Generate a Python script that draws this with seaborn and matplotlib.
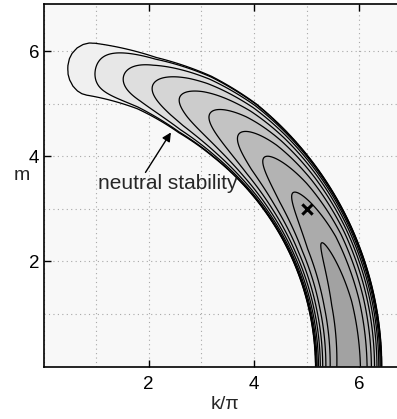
import numpy as np
import matplotlib
matplotlib.use("Agg")
import matplotlib.pyplot as plt
import seaborn as sns
from matplotlib.ticker import MultipleLocator, FixedLocator

# ---- data ----
# ridge value of the growth rate (in contour-level units) vs polar angle of (k/pi, m)
ridge_angle = [0, 12, 24, 34.9, 43.5, 50, 56.7, 63.2, 68.8, 74.6, 80.1, 85.4, 90]
ridge_level = [9.63, 9.45, 9.0, 8.0, 7.0, 6.0, 5.0, 4.0, 3.0, 2.0, 1.0, 0.05, 0.05]
# unstable band (inside neutral stability curve): centre radius and half-width vs angle
band_angle = [0, 20, 51, 60, 70, 81, 82, 83, 84, 84.8, 85.2, 85.4, 90]
band_radius = [5.80, 5.79, 5.78, 5.76, 5.74, 5.73, 5.73, 5.73, 5.73, 5.73, 5.73, 5.73, 5.73]
band_halfwidth = [0.63, 0.635, 0.65, 0.62, 0.52, 0.50, 0.487, 0.445, 0.366, 0.252, 0.148, 0.001, 0.001]
tip_angle = 85.4
contour_levels = [0, 1, 2, 3, 4, 5, 6, 7, 8, 9, 10]
fill_grays = [0.94, 0.905, 0.87, 0.835, 0.80, 0.765, 0.73, 0.70, 0.67, 0.635]
max_k = [5.0]
max_m = [3.0]
x_ticks = [2, 4, 6]
y_ticks = [2, 4, 6]
x_lim = (0, 6.9)
y_lim = (0, 6.9)

sns.set_style("ticks")
plt.rcParams['font.family'] = ['Liberation Sans', 'DejaVu Sans']

fig = plt.figure(figsize=(3.97, 4.19), dpi=100)
ax = fig.add_axes([43.5 / 397, (419 - 366.5) / 419, (406.5 - 43.5) / 397, (366.5 - 4) / 419])
ax.set_facecolor('#f8f8f8')

kk = np.linspace(x_lim[0], x_lim[1], 1400)
mm = np.linspace(y_lim[0], y_lim[1], 1400)
K, M = np.meshgrid(kk, mm)
R = np.hypot(K, M)
TH = np.degrees(np.arctan2(M, K))
G = np.interp(TH, ridge_angle, ridge_level)
Rc = np.interp(TH, band_angle, band_radius)
W = np.interp(TH, band_angle, band_halfwidth)
U = (R - Rc) / W
Q = 1 - U ** 2
S = G * np.sign(Q) * np.sqrt(np.abs(Q))
S = np.where(TH >= tip_angle, -1.0, S)

colors = [str(g) for g in fill_grays]
ax.contourf(K, M, S, levels=contour_levels, colors=colors, zorder=1)
ax.contour(K, M, S, levels=contour_levels[:-1], colors='k', linewidths=0.9, zorder=2)

sns.scatterplot(x=max_k, y=max_m, marker='x', s=55, color='k', linewidth=2.2, ax=ax, zorder=5)

ax.set_xlim(*x_lim)
ax.set_ylim(*y_lim)
ax.xaxis.set_major_locator(FixedLocator(x_ticks))
ax.yaxis.set_major_locator(FixedLocator(y_ticks))
ax.xaxis.set_minor_locator(MultipleLocator(1))
ax.yaxis.set_minor_locator(MultipleLocator(1))
ax.grid(which='both', color='#a8a8a8', linestyle=(0, (1, 3)), linewidth=0.8, zorder=0)
ax.set_axisbelow(True)
ax.tick_params(which='major', direction='in', length=5, width=1, top=True, right=True,
               labelsize=13.5, pad=7, colors='k')
ax.tick_params(axis='y', which='major', pad=3)
ax.tick_params(which='minor', length=0)
for sp in ax.spines.values():
    sp.set_linewidth(1.2)
    sp.set_color('k')

ax.set_xlabel('k/π', fontsize=14)
ax.xaxis.set_label_coords(0.5, -0.105)
ax.xaxis.label.set_va('center')
ax.set_ylabel('m', fontsize=14, rotation=0)
ax.yaxis.set_label_coords(-0.059, 0.528)
ax.yaxis.label.set_va('center')
ax.yaxis.label.set_ha('center')

ax.annotate('', xy=(2.45, 4.50), xytext=(1.91, 3.65),
            arrowprops=dict(arrowstyle='-|>', color='k', lw=1.0, mutation_scale=13), zorder=6)
ax.text(2.36, 3.38, 'neutral stability', fontsize=15, ha='center', va='baseline', zorder=6)

fig.savefig('out.png', dpi=100)
